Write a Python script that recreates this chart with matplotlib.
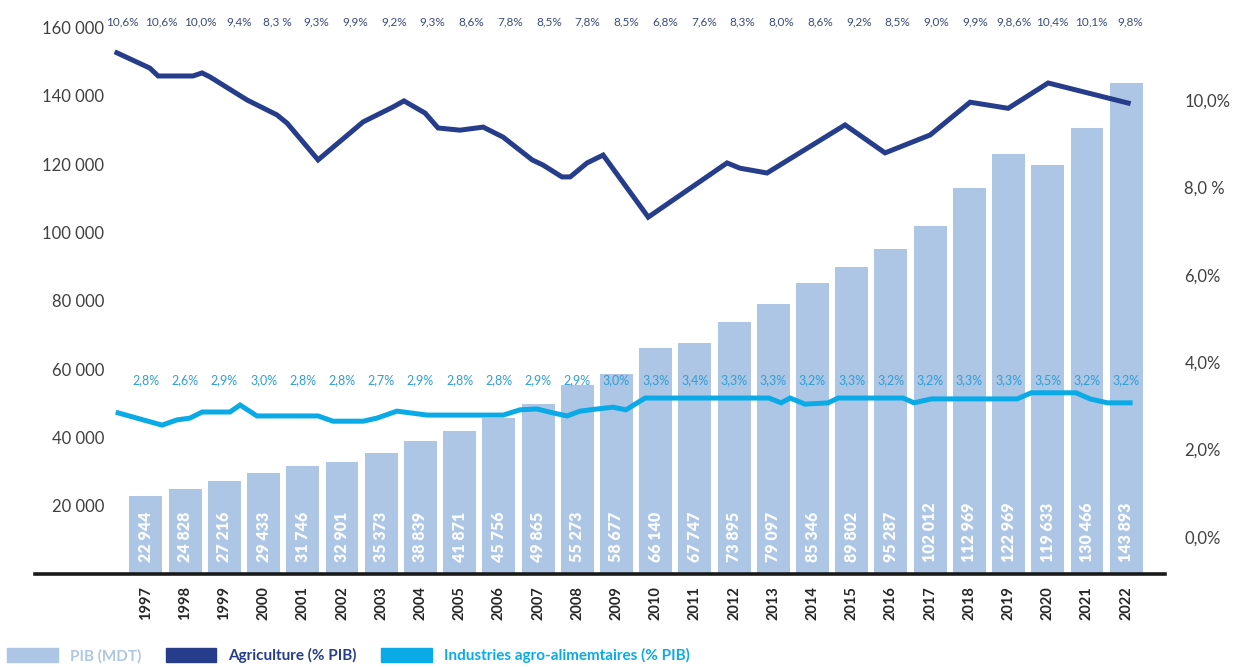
import numpy as np
import matplotlib
matplotlib.use("Agg")
import matplotlib.pyplot as plt
from matplotlib.patches import Patch

plt.rcParams['font.family'] = ['Lato', 'DejaVu Sans']

# PIB (MDT) par annee
years = list(range(1997, 2023))
pib = [22944, 24828, 27216, 29433, 31746, 32901, 35373, 38839, 41871, 45756,
       49865, 55273, 58677, 66140, 67747, 73895, 79097, 85346, 89802, 95287,
       102012, 112969, 122969, 119633, 130466, 143893]

# Agriculture (% PIB): trace (annee, valeur)
agri_t = [1996.26, 1997.10, 1997.31, 1998.20, 1998.43, 1998.63, 1999.58, 2000.34,
          2000.60, 2001.39, 2002.54, 2003.30, 2003.58, 2004.12, 2004.45, 2005.01,
          2005.60, 2006.11, 2006.85, 2007.13, 2007.61, 2007.82, 2008.25, 2008.66,
          2009.81, 2011.82, 2012.15, 2012.84, 2014.83, 2015.85, 2017.00, 2018.02,
          2018.99, 2020.01, 2022.05]
agri_pct = [11.08, 10.73, 10.55, 10.55, 10.62, 10.53, 10.00, 9.66,
            9.47, 8.63, 9.50, 9.84, 9.98, 9.70, 9.36, 9.31,
            9.38, 9.15, 8.63, 8.51, 8.24, 8.24, 8.56, 8.74,
            7.32, 8.56, 8.44, 8.33, 9.43, 8.79, 9.20, 9.95,
            9.81, 10.39, 9.93]
agri_labels = ["10,6%", "10,6%", "10,0%", "9,4%", "8,3 %", "9,3%", "9,9%", "9,2%", "9,3%",
               "8,6%", "7,8%", "8,5%", "7,8%", "8,5%", "6,8%", "7,6%", "8,3%", "8,0%",
               "8,6%", "9,2%", "8,5%", "9,0%", "9,9%", "9,8,6%", "10,4%", "10,1%", "9,8%"]

# Industries agro-alimentaires (% PIB)
iaa_t = [1996.29, 1997.41, 1997.79, 1998.12, 1998.43, 1999.14, 1999.40, 1999.83,
         2001.39, 2001.77, 2002.54, 2002.89, 2003.40, 2004.17, 2006.11, 2006.54,
         2006.97, 2007.38, 2007.74, 2008.07, 2008.51, 2008.91, 2009.24, 2009.73,
         2012.89, 2013.20, 2013.43, 2013.81, 2014.40, 2014.65, 2016.31, 2016.59,
         2017.03, 2019.22, 2019.58, 2020.72, 2021.08, 2021.52, 2021.87, 2022.10]
iaa_pct = [2.84, 2.56, 2.68, 2.72, 2.86, 2.86, 3.02, 2.77,
           2.77, 2.65, 2.65, 2.72, 2.88, 2.79, 2.79, 2.91,
           2.93, 2.84, 2.77, 2.88, 2.93, 2.97, 2.91, 3.18,
           3.18, 3.07, 3.18, 3.04, 3.07, 3.18, 3.18, 3.07,
           3.16, 3.16, 3.30, 3.30, 3.16, 3.07, 3.07, 3.07]
iaa_labels = ["2,8%", "2,6%", "2,9%", "3,0%", "2,8%", "2,8%", "2,7%", "2,9%", "2,8%",
              "2,8%", "2,9%", "2,9%", "3,0%", "3,3%", "3,4%", "3,3%", "3,3%", "3,2%",
              "3,3%", "3,2%", "3,2%", "3,3%", "3,3%", "3,5%", "3,2%", "3,2%"]

left_ticks = [20000, 40000, 60000, 80000, 100000, 120000, 140000, 160000]
right_ticks = [0, 2, 4, 6, 8, 10]
right_labels = ["0,0%", "2,0%", "4,0%", "6,0%", "8,0 %", "10,0%"]

c_bar = '#adc6e5'
c_agri = '#263d8c'
c_iaa = '#0aaae6'

fig = plt.figure(figsize=(12.35, 6.67), dpi=100)
ax = fig.add_axes([35 / 1235, 93 / 667, 1130 / 1235, 564 / 667])
ax2 = ax.twinx()

ax.bar(years, pib, width=0.84, color=c_bar, zorder=1)
for x, v in zip(years, pib):
    ax.text(x, 3500, f"{v:,}".replace(",", " "), rotation=90, ha='center', va='bottom',
            color='#fbfcfe', fontsize=11.5, fontweight='heavy', zorder=3)

ax.set_xlim(1994.17, 2022.99)
ax.set_ylim(0, 165150)
ax.set_yticks(left_ticks)
ax.set_yticklabels([f"{v:,}".replace(",", " ") for v in left_ticks])
ax.tick_params(axis='y', length=0, pad=-50, labelsize=12, labelcolor='#404040')
ax.set_xticks(years)
ax.set_xticklabels([str(y) for y in years], rotation=90, fontweight='bold')
ax.tick_params(axis='x', length=0, pad=9, labelsize=10.5, labelcolor='#262626')
for s in ['top', 'left', 'right']:
    ax.spines[s].set_visible(False)
ax.spines['bottom'].set_linewidth(2.6)
ax.spines['bottom'].set_color('#1a1a1a')

ax2.plot(agri_t, agri_pct, color=c_agri, lw=3.6, solid_joinstyle='miter')
ax2.plot(iaa_t, iaa_pct, color=c_iaa, lw=3.6, solid_joinstyle='miter')
ax2.set_ylim(-0.847, 12.06)
ax2.set_yticks(right_ticks)
ax2.set_yticklabels(right_labels)
ax2.tick_params(axis='y', length=0, pad=14, labelsize=12, labelcolor='#404040')
for s in ax2.spines.values():
    s.set_visible(False)

trans = ax.get_xaxis_transform()
for x, lab in zip(np.linspace(1996.4, 2022.1, len(agri_labels)), agri_labels):
    ax.text(x, 0.978, lab, transform=trans, ha='center', va='center',
            fontsize=8.5, color='#3b4a80')
for x, lab in zip(years, iaa_labels):
    ax2.text(x, 3.6, lab, ha='center', va='center', fontsize=9, color='#2e9fd6')

handles = [Patch(color=c_bar), Patch(color=c_agri), Patch(color=c_iaa)]
leg = fig.legend(handles, ["PIB (MDT)", "Agriculture (% PIB)", "Industries agro-alimemtaires (% PIB)"],
                 loc='center left', bbox_to_anchor=(0.006, 0.017), ncol=3, frameon=False,
                 fontsize=11, handlelength=3.3, handleheight=1.0, handletextpad=0.8,
                 columnspacing=1.6, borderpad=0, borderaxespad=0)
for t, c in zip(leg.get_texts(), [c_bar, c_agri, c_iaa]):
    t.set_color(c)
    t.set_fontweight('bold')

fig.savefig("out.png", dpi=100)
